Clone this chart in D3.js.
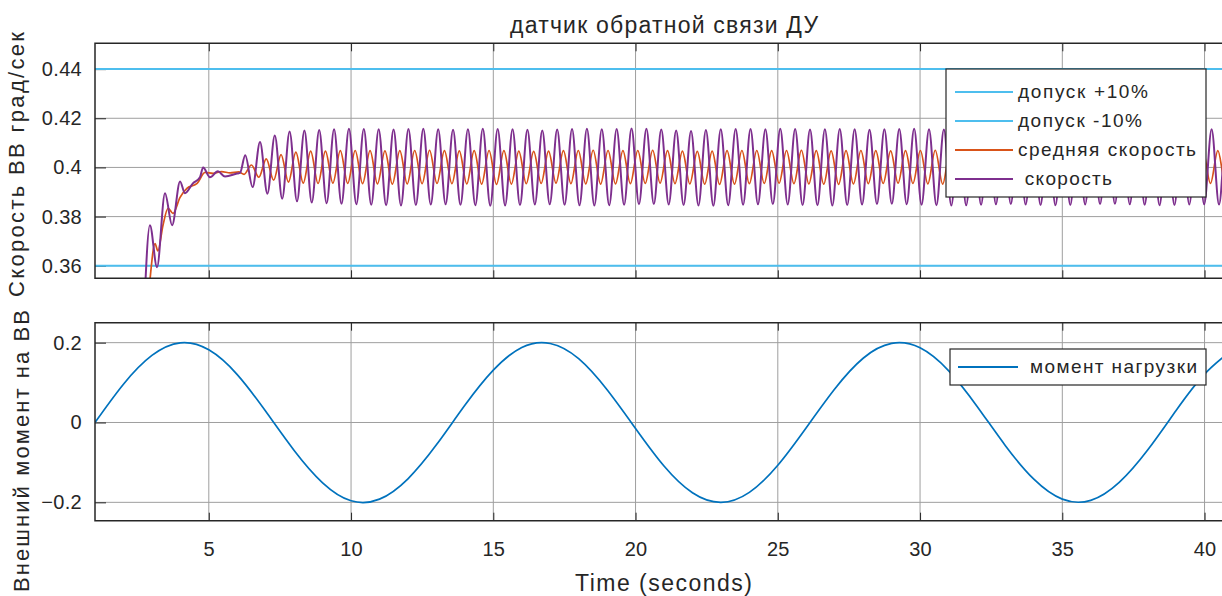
<!DOCTYPE html>
<meta charset="utf-8">
<style>
    body { margin: 0; background: #fff; }
    svg { display: block; font-family: "Liberation Sans", Arial, Helvetica, sans-serif; }
    .tick text { font-size: 20px; fill: #262626; letter-spacing: 0.3px; }
    .tick line { stroke: #262626; stroke-width: 1px; }
    .domain { display: none; }
    .grid line { stroke: #9e9e9e; stroke-width: 1px; }
    .frame { stroke: #262626; stroke-width: 1.5px; }
    .title, .xlabel { font-size: 23px; fill: #262626; }
    .ylabel { font-size: 22px; fill: #262626; }
    .legend rect { fill: #fff; stroke: #262626; stroke-width: 1.2px; }
    .legend text { font-size: 19px; fill: #262626; white-space: pre; }
</style>
<svg width="1222" height="596"></svg>
<script src="https://d3js.org/d3.v7.min.js"></script>
<script>

    // ticks
    var xTicks = [5, 10, 15, 20, 25, 30, 35, 40];
    var speedTicks = [0.36, 0.38, 0.40, 0.42, 0.44];
    var loadTicks = [-0.2, 0, 0.2];

    // tolerance lines (+10% / -10%)
    var tolerance = [0.44, 0.36];

    // speed start-up (time s, value)
    var speedStartT = [2.72, 2.93, 3.18, 3.46, 3.71, 3.99, 4.16, 4.44, 4.69, 4.80, 5.04, 5.32, 5.57, 5.99, 6.10,
        6.28, 6.54, 6.80, 7.06, 7.32, 7.58, 7.84, 8.10, 8.36, 8.62];
    var speedStartV = [0.340, 0.3765, 0.3594, 0.3895, 0.3765, 0.3943, 0.3895, 0.3935, 0.3960, 0.4000, 0.3960, 0.3984, 0.3963, 0.3975, 0.3978,
        0.4050, 0.3920, 0.4103, 0.3893, 0.4130, 0.3873, 0.4146, 0.3862, 0.4150, 0.3857];

    // mean speed start-up
    var avgStartT = [2.86, 2.93, 3.11, 3.21, 3.39, 3.57, 3.74, 3.99, 4.23, 4.59, 4.87, 5.15, 5.45, 5.75, 6.05,
        6.24, 6.50, 6.76, 7.02, 7.28, 7.54, 7.80, 8.06, 8.32, 8.58, 8.84];
    var avgStartV = [0.345, 0.354, 0.369, 0.366, 0.3765, 0.3834, 0.3813, 0.3878, 0.3915, 0.3935, 0.3980, 0.3976, 0.3983, 0.3978, 0.3982,
        0.3972, 0.4010, 0.3960, 0.4035, 0.3948, 0.4052, 0.3940, 0.4062, 0.3936, 0.4066, 0.3935];

    // steady oscillation: one peak + one trough per cycle
    var cycle = 0.5228;
    var speedT0 = 8.88, avgT0 = 9.10;
    var speedPeaks = [0.4152, 0.4155, 0.4157, 0.4156, 0.4155, 0.4154, 0.4156, 0.4157, 0.4155, 0.4153,
        0.4155, 0.4157, 0.4156, 0.4155, 0.4153, 0.4150, 0.4154, 0.4156, 0.4157, 0.4155,
        0.4156, 0.4158, 0.4157, 0.4154, 0.4150, 0.4148, 0.4152, 0.4155, 0.4156, 0.4156,
        0.4155, 0.4157, 0.4156, 0.4154, 0.4155, 0.4156, 0.4155, 0.4153, 0.4155, 0.4156,
        0.4157, 0.4155, 0.4154, 0.4156, 0.4157, 0.4155, 0.4153, 0.4155, 0.4156, 0.4157,
        0.4155, 0.4154, 0.4156, 0.4157, 0.4156, 0.4154, 0.4155, 0.4156, 0.4157, 0.4156,
        0.4155, 0.4154];
    var speedTroughs = [0.3854, 0.3852, 0.3850, 0.3848, 0.3846, 0.3845, 0.3847, 0.3849, 0.3850, 0.3848,
        0.3846, 0.3844, 0.3845, 0.3847, 0.3849, 0.3850, 0.3848, 0.3846, 0.3845, 0.3846,
        0.3848, 0.3850, 0.3851, 0.3849, 0.3847, 0.3845, 0.3844, 0.3846, 0.3848, 0.3850,
        0.3851, 0.3849, 0.3847, 0.3846, 0.3845, 0.3847, 0.3849, 0.3851, 0.3852, 0.3850,
        0.3848, 0.3846, 0.3845, 0.3846, 0.3848, 0.3850, 0.3851, 0.3849, 0.3847, 0.3846,
        0.3847, 0.3849, 0.3851, 0.3852, 0.3850, 0.3848, 0.3846, 0.3847, 0.3849, 0.3850,
        0.3849, 0.3847];
    var avgPeaks = [0.4066, 0.4068, 0.4069, 0.4068, 0.4067, 0.4068, 0.4069, 0.4070, 0.4068, 0.4067,
        0.4068, 0.4069, 0.4068, 0.4066, 0.4065, 0.4066, 0.4068, 0.4069, 0.4070, 0.4069,
        0.4068, 0.4069, 0.4070, 0.4068, 0.4066, 0.4065, 0.4066, 0.4068, 0.4069, 0.4069,
        0.4068, 0.4069, 0.4070, 0.4068, 0.4067, 0.4068, 0.4069, 0.4068, 0.4067, 0.4068,
        0.4069, 0.4070, 0.4068, 0.4067, 0.4068, 0.4069, 0.4068, 0.4067, 0.4068, 0.4069,
        0.4070, 0.4068, 0.4067, 0.4068, 0.4069, 0.4070, 0.4068, 0.4067, 0.4068, 0.4069,
        0.4068, 0.4067];
    var avgTroughs = [0.3936, 0.3935, 0.3934, 0.3933, 0.3932, 0.3933, 0.3934, 0.3935, 0.3934, 0.3933,
        0.3932, 0.3931, 0.3932, 0.3934, 0.3935, 0.3936, 0.3934, 0.3933, 0.3932, 0.3933,
        0.3934, 0.3935, 0.3936, 0.3934, 0.3933, 0.3932, 0.3931, 0.3932, 0.3934, 0.3935,
        0.3936, 0.3934, 0.3933, 0.3932, 0.3931, 0.3933, 0.3934, 0.3935, 0.3936, 0.3935,
        0.3933, 0.3932, 0.3931, 0.3932, 0.3934, 0.3935, 0.3936, 0.3934, 0.3933, 0.3932,
        0.3933, 0.3934, 0.3935, 0.3936, 0.3935, 0.3933, 0.3932, 0.3933, 0.3934, 0.3935,
        0.3934, 0.3933];

    // load moment, sampled every second from t = 1
    var loadT = d3.range(1, 42);
    var loadV = [0, 0.096, 0.168, 0.1995, 0.182, 0.120, 0.028, -0.070, -0.151, -0.196,
        -0.192, -0.141, -0.056, 0.043, 0.131, 0.188, 0.198, 0.160, 0.082, -0.015,
        -0.109, -0.176, -0.200, -0.175, -0.107, -0.013, 0.084, 0.161, 0.198, 0.187,
        0.130, 0.041, -0.058, -0.142, -0.192, -0.195, -0.150, -0.069, 0.030, 0.121,
        0.183];

    var colors = {tol: "#4dbeee", avg: "#d95319", speed: "#7e2f8e", load: "#0072bd"};

    var svg = d3.select("svg");

    var left = 95, right = 1233;
    var top1 = 43.3, bot1 = 278.3, top2 = 322.7, bot2 = 520.7;

    var x = d3.scaleLinear().domain([1, 41]).range([left, right]);
    var ySpeed = d3.scaleLinear().domain([0.3549, 0.4505]).range([bot1, top1]);
    var yLoad = d3.scaleLinear().domain([-0.246, 0.25]).range([bot2, top2]);

    function build(startT, startV, t0, peaks, troughs) {
        var pts = startT.map(function(t, i) { return [t, startV[i]]; });
        peaks.forEach(function(p, i) {
            pts.push([t0 + i * cycle, p]);
            pts.push([t0 + i * cycle + cycle / 2, troughs[i]]);
        });
        return pts;
    }

    var speedData = build(speedStartT, speedStartV, speedT0, speedPeaks, speedTroughs);
    var avgData = build(avgStartT, avgStartV, avgT0, avgPeaks, avgTroughs);
    var loadData = loadT.map(function(t, i) { return [t, loadV[i]]; });

    function panel(y, top, bot, yTicks, id) {
        var g = svg.append("g");
        svg.append("clipPath").attr("id", id).append("rect")
            .attr("x", left).attr("y", top).attr("width", right - left).attr("height", bot - top);

        var grid = g.append("g").attr("class", "grid");
        grid.selectAll(".gx").data(xTicks).enter().append("line")
            .attr("x1", x).attr("x2", x).attr("y1", top).attr("y2", bot);
        grid.selectAll(".gy").data(yTicks).enter().append("line")
            .attr("x1", left).attr("x2", right).attr("y1", y).attr("y2", y);

        g.append("g").attr("transform", "translate(" + left + ",0)")
            .call(d3.axisLeft(y).tickValues(yTicks).tickSize(-11).tickPadding(13)
                .tickFormat(function(d) { return d3.format("~g")(+d.toFixed(2)); }));
        g.append("g").attr("transform", "translate(0," + bot + ")")
            .call(d3.axisBottom(x).tickValues(xTicks).tickSize(-8).tickFormat(""));
        g.append("g").attr("transform", "translate(0," + top + ")")
            .call(d3.axisTop(x).tickValues(xTicks).tickSize(-8).tickFormat(""));

        var plot = g.append("g").attr("clip-path", "url(#" + id + ")");
        return {g: g, plot: plot};
    }

    // top panel: speed
    var p1 = panel(ySpeed, top1, bot1, speedTicks, "clip1");
    var lineSpeed = d3.line().x(function(d) { return x(d[0]); }).y(function(d) { return ySpeed(d[1]); })
        .curve(d3.curveMonotoneX);

    p1.plot.selectAll(".tol").data(tolerance).enter().append("line")
        .attr("x1", left).attr("x2", right)
        .attr("y1", ySpeed).attr("y2", ySpeed)
        .attr("stroke", colors.tol).attr("stroke-width", 2);
    p1.plot.append("path").datum(avgData).attr("d", lineSpeed)
        .attr("fill", "none").attr("stroke", colors.avg).attr("stroke-width", 1.7);
    p1.plot.append("path").datum(speedData).attr("d", lineSpeed)
        .attr("fill", "none").attr("stroke", colors.speed).attr("stroke-width", 2);

    // bottom panel: load moment
    var p2 = panel(yLoad, top2, bot2, loadTicks, "clip2");
    var lineLoad = d3.line().x(function(d) { return x(d[0]); }).y(function(d) { return yLoad(d[1]); })
        .curve(d3.curveNatural);
    p2.plot.append("path").datum(loadData).attr("d", lineLoad)
        .attr("fill", "none").attr("stroke", colors.load).attr("stroke-width", 1.7);

    p2.g.append("g").attr("transform", "translate(0," + bot2 + ")")
        .call(d3.axisBottom(x).tickValues(xTicks).tickSize(0).tickPadding(21));

    // frames (left, top, bottom; right edge is beyond the picture)
    [[top1, bot1], [top2, bot2]].forEach(function(b) {
        svg.append("path").attr("class", "frame").attr("fill", "none")
            .attr("d", "M" + right + "," + b[0] + "H" + left + "V" + b[1] + "H" + right);
    });

    // titles and labels (textLength keeps the spread of the original rendering)
    svg.append("text").attr("class", "title").attr("x", 510).attr("y", 33)
        .attr("textLength", 308).attr("lengthAdjust", "spacing").text("датчик обратной связи ДУ");
    svg.append("text").attr("class", "ylabel").attr("x", 0).attr("y", 0)
        .attr("textLength", 265).attr("lengthAdjust", "spacing")
        .attr("transform", "translate(24,297) rotate(-90)").text("Скорость ВВ град/сек");
    svg.append("text").attr("class", "ylabel").attr("x", 0).attr("y", 0)
        .attr("textLength", 282).attr("lengthAdjust", "spacing")
        .attr("transform", "translate(29,592) rotate(-90)").text("Внешний момент на ВВ");
    svg.append("text").attr("class", "xlabel").attr("x", 575).attr("y", 591)
        .attr("textLength", 177).attr("lengthAdjust", "spacing").text("Time (seconds)");

    // legends
    var leg1 = svg.append("g").attr("class", "legend");
    leg1.append("rect").attr("x", 946).attr("y", 69).attr("width", 260).attr("height", 128);
    var items1 = [
        {name: "допуск +10%", color: colors.tol, w: 130},
        {name: "допуск -10%", color: colors.tol, w: 124},
        {name: "средняя скорость", color: colors.avg, w: 178},
        {name: " скорость", color: colors.speed, w: 94}
    ];
    items1.forEach(function(it, i) {
        var cy = 92 + i * 29;
        leg1.append("line").attr("x1", 955).attr("x2", 1013).attr("y1", cy).attr("y2", cy)
            .attr("stroke", it.color).attr("stroke-width", 2);
        leg1.append("text").attr("x", 1018).attr("y", cy + 6)
            .attr("textLength", it.w).attr("lengthAdjust", "spacing").text(it.name);
    });

    var leg2 = svg.append("g").attr("class", "legend");
    leg2.append("rect").attr("x", 950).attr("y", 349).attr("width", 256).attr("height", 36);
    leg2.append("line").attr("x1", 958).attr("x2", 1018).attr("y1", 367).attr("y2", 367)
        .attr("stroke", colors.load).attr("stroke-width", 2);
    leg2.append("text").attr("x", 1030).attr("y", 373)
        .attr("textLength", 167).attr("lengthAdjust", "spacing").text("момент нагрузки");

</script>
